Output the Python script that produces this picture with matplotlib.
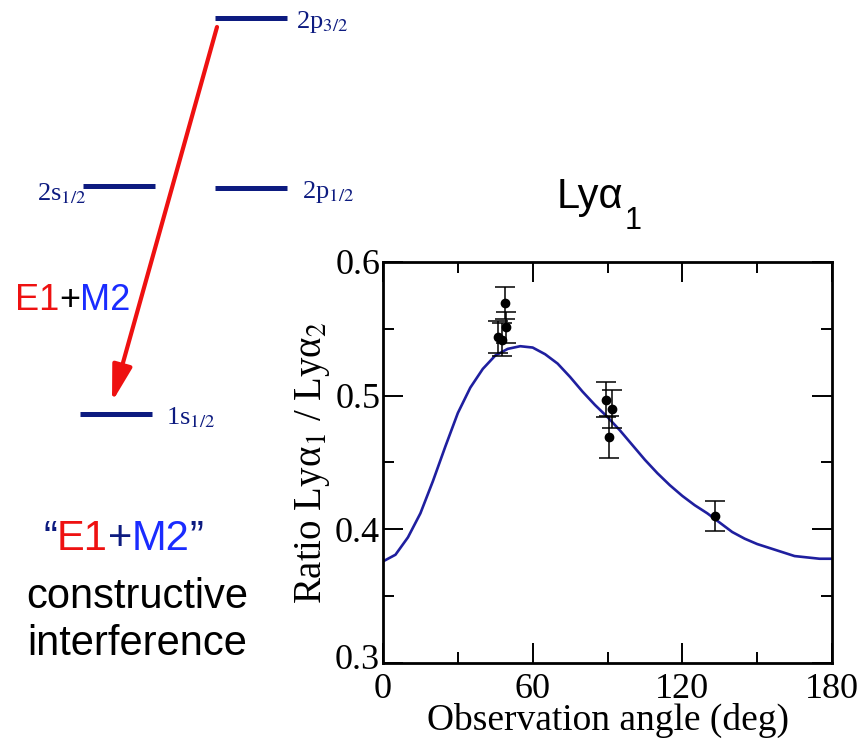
import numpy as np
import matplotlib
matplotlib.use('Agg')
import matplotlib.pyplot as plt
import matplotlib.transforms as mtransforms
from matplotlib.patches import FancyArrowPatch
from matplotlib.ticker import MultipleLocator

# theory curve (angle in deg, ratio)
theta = [0, 5, 10, 15, 20, 25, 30, 35, 40, 45, 50, 55, 60, 65, 70, 75, 80, 85, 90,
         95, 100, 105, 110, 115, 120, 125, 130, 135, 140, 145, 150, 155, 160, 165,
         170, 175, 180]
ratio = [0.376, 0.381, 0.394, 0.412, 0.436, 0.462, 0.487, 0.506, 0.520, 0.530,
         0.535, 0.537, 0.536, 0.531, 0.524, 0.514, 0.503, 0.493, 0.484, 0.474,
         0.463, 0.452, 0.442, 0.433, 0.425, 0.418, 0.412, 0.405, 0.398, 0.393,
         0.389, 0.386, 0.383, 0.380, 0.379, 0.378, 0.378]

# measured points
meas_angle = [48.8, 49.2, 46.3, 47.8, 89.2, 92.0, 90.8, 133.2]
meas_ratio = [0.569, 0.551, 0.544, 0.542, 0.497, 0.490, 0.469, 0.410]
meas_err = [0.012, 0.0115, 0.012, 0.012, 0.013, 0.014, 0.016, 0.0115]

xticks = [0, 60, 120, 180]
yticks = [0.3, 0.4, 0.5, 0.6]

navy = '#0d1b80'
red = '#ee1111'
blue = '#1a2cff'

plt.rcParams['mathtext.fontset'] = 'stix'
fig = plt.figure(figsize=(8.63, 7.54), dpi=100)

# ---- level diagram on a pixel canvas
ax0 = fig.add_axes([0, 0, 1, 1])
ax0.set_xlim(0, 863)
ax0.set_ylim(754, 0)
ax0.axis('off')

levels = [((215, 287), 18), ((83, 155), 186), ((215, 287), 188), ((80, 152), 414)]
for (x0, x1), y in levels:
    ax0.plot([x0, x1], [y, y], color=navy, lw=3.6, solid_capstyle='butt')

lvl_kw = dict(color=navy, fontsize=19, va='baseline', family='Liberation Serif')
ax0.text(296, 28, r'2p$_{3/2}$', **lvl_kw)
ax0.text(37, 200, r'2s$_{1/2}$', **lvl_kw)
ax0.text(302, 198, r'2p$_{1/2}$', **lvl_kw)
ax0.text(166, 424, r'1s$_{1/2}$', **lvl_kw)

arr = FancyArrowPatch((217, 27), (112, 402), arrowstyle='-|>,head_length=2.2,head_width=0.6',
                      mutation_scale=10, color=red, lw=3, shrinkA=0, shrinkB=0)
ax0.add_patch(arr)


def colored(x, y, parts, size):
    t = ax0.text(x, y, parts[0][0], color=parts[0][1], fontsize=size,
                 family='Liberation Sans', va='baseline')
    for s, c in parts[1:]:
        t = ax0.annotate(s, xy=(1, 0), xycoords=t, color=c, fontsize=size,
                         family='Liberation Sans', va='bottom', ha='left')
    return t


colored(15, 310, [('E1', red), ('+', 'black'), ('M2', blue)], 26)
colored(43, 550, [('\u201c', navy), ('E1', red), ('+', navy), ('M2', blue), ('\u201d', navy)], 30)
ax0.text(137, 608, 'constructive', ha='center', va='baseline', fontsize=30, family='Liberation Sans')
ax0.text(137, 655, 'interference', ha='center', va='baseline', fontsize=30, family='Liberation Sans')

# title Lya_1
tt = ax0.text(557, 208, 'Ly\u03b1', fontsize=30, family='Liberation Sans', va='baseline')
ax0.annotate('1', xy=(1, 0), xycoords=tt, xytext=(1, -14), textcoords='offset points',
             fontsize=22, family='Liberation Sans', va='bottom', ha='left')

# ---- the plot
ax = fig.add_axes([383 / 863, 91 / 754, 449 / 863, 401 / 754])
ax.plot(theta, ratio, color='#1f1f9f', lw=1.9)
ax.errorbar(meas_angle, meas_ratio, yerr=meas_err, fmt='o', color='black', ms=6,
            elinewidth=1.1, capsize=7.5, capthick=1.1)

ax.set_xlim(0, 180)
ax.set_ylim(0.3, 0.6)
ax.set_xticks(xticks)
ax.set_xticklabels([str(v) for v in xticks])
ax.set_yticks(yticks)
ax.set_yticklabels(['%.1f' % v for v in yticks])
ax.xaxis.set_minor_locator(MultipleLocator(30))
ax.yaxis.set_minor_locator(MultipleLocator(0.05))
ax.tick_params(which='both', direction='in', top=True, right=True, width=1.4)
ax.tick_params(which='major', length=14.5, labelsize=26)
ax.tick_params(axis='x', which='major', pad=7)
ax.tick_params(axis='y', which='major', pad=2)
ax.tick_params(which='minor', length=8)
for lab in ax.get_xticklabels() + ax.get_yticklabels():
    lab.set_family('Liberation Serif')
# lift "0.3" a little so it sits clear of the "0" below it
lab03 = ax.get_yticklabels()[0]
lab03.set_transform(lab03.get_transform() +
                    mtransforms.ScaledTranslation(0, 5 / 72, fig.dpi_scale_trans))
for sp in ax.spines.values():
    sp.set_linewidth(2)

ax.set_xlabel('Observation angle (deg)', fontsize=27, family='Liberation Serif', labelpad=-2)
ax.set_ylabel('Ratio Ly\u03b1$_1$ / Ly\u03b1$_2$', fontsize=28, family='Liberation Serif', labelpad=2)

fig.savefig('out.png', dpi=100)
